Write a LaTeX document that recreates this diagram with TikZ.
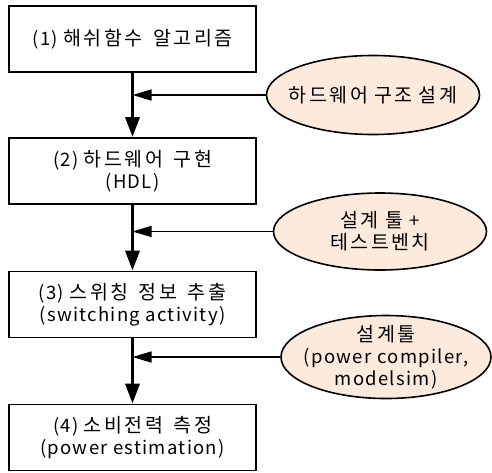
\documentclass[tikz,border=0pt]{standalone}
\usepackage{fontspec}
\setmainfont[LetterSpace=7]{Noto Sans CJK KR}
\newfontfamily\kr[LetterSpace=13,WordSpace=1.5]{Noto Sans CJK KR}
\usetikzlibrary{arrows.meta,shapes.geometric}
\definecolor{peach}{HTML}{FCEBDD}
\newcommand\K[1]{{\kr\fontsize{19.5}{22}\selectfont #1}}
\tikzset{
  stepbox/.style={draw, line width=1.8pt, minimum width=247pt, minimum height=66pt, inner sep=0pt, align=center, font=\fontsize{18.5}{22}\selectfont},
  toolell/.style={ellipse, draw, line width=1.6pt, fill=peach, inner xsep=-50pt, inner ysep=-12pt, text width=240pt, align=center, font=\fontsize{18.5}{22}\selectfont},
  mainarrow/.style={line width=3.5pt, -{Triangle[length=20pt,width=14pt]}},
  sidearrow/.style={line width=1.5pt, -{Triangle[length=19pt,width=11pt]}}
}
\begin{document}
\begin{tikzpicture}[x=1pt,y=-1pt]
\useasboundingbox (0,0) rectangle (492,472);
\node[stepbox] (b1) at (132.5,39) {(1) \K{해쉬함수 알고리즘}};
\node[stepbox] (b2) at (132.5,171) {(2) \K{하드웨어 구현}\\(HDL)};
\node[stepbox] (b3) at (132.5,304.5) {(3) \K{스위칭 정보 추출}\\(switching activity)};
\node[stepbox] (b4) at (132.5,437.5) {(4) \K{소비전력 측정}\\(power estimation)};
\node[toolell, minimum width=213pt, minimum height=79pt] (e1) at (373,95) {\K{하드웨어 구조 설계}};
\node[toolell, minimum width=213pt, minimum height=77pt] (e2) at (380,231.5) {\K{설계 툴} +\\\K{테스트벤치}};
\node[toolell, minimum width=210pt, minimum height=83pt] (e3) at (386,357) {\K{설계툴}\\(power compiler,\\modelsim)};
\draw[mainarrow] (b1.south) -- (b2.north);
\draw[mainarrow] (b2.south) -- (b3.north);
\draw[mainarrow] (b3.south) -- (b4.north);
\draw[sidearrow] (e1.west) -- (e1.west -| b1.south);
\draw[sidearrow] (e2.west) -- (e2.west -| b2.south);
\draw[sidearrow] (e3.west) -- (e3.west -| b3.south);
\end{tikzpicture}
\end{document}
